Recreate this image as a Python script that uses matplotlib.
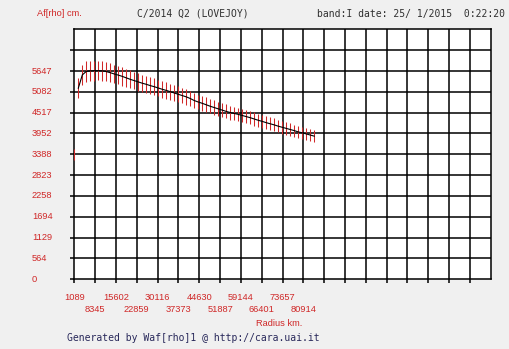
import numpy as np
import matplotlib
matplotlib.use('Agg')
import matplotlib.pyplot as plt

# radius (km) of each measured ring and Af[rho] (cm) with its error
radius_km = [1089, 2483, 3877, 5271, 6665, 8059, 9453, 10847, 12241, 13635,
             15029, 16423, 17817, 19211, 20605, 21999, 23393, 24787, 26181,
             27575, 28969, 30363, 31757, 33151, 34545, 35939, 37333, 38727,
             40121, 41515, 42909, 44303, 45697, 47091, 48485, 49879, 51273,
             52667, 54061, 55455, 56849, 58243, 59637, 61031, 62425, 63819,
             65213, 66607, 68001, 69395, 70789, 72183, 73577, 74971, 76365,
             77759, 79153, 80547, 81941, 83335, 84729]
af_rho = [3378, 5180, 5540, 5635, 5650, 5655, 5655, 5650, 5630, 5600,
          5565, 5535, 5500, 5460, 5420, 5385, 5350, 5315, 5285, 5250,
          5220, 5185, 5150, 5120, 5085, 5050, 5015, 4980, 4945, 4900,
          4845, 4805, 4770, 4730, 4690, 4655, 4620, 4585, 4550, 4520,
          4495, 4470, 4440, 4410, 4380, 4345, 4310, 4280, 4245, 4215,
          4185, 4150, 4120, 4090, 4060, 4030, 3995, 3970, 3940, 3910,
          3880]
af_err = [150, 270, 275, 275, 270, 270, 265, 265, 260, 255,
          255, 250, 250, 245, 245, 240, 240, 235, 235, 230,
          230, 225, 225, 220, 220, 215, 215, 210, 210, 205,
          205, 200, 200, 200, 195, 195, 195, 190, 190, 190,
          185, 185, 185, 180, 180, 180, 180, 175, 175, 175,
          175, 170, 170, 170, 170, 165, 165, 165, 165, 160,
          160]

x_ticks = [1089, 8345, 15602, 22859, 30116, 37373, 44630, 51887,
           59144, 66401, 73657, 80914]
y_ticks = [0, 564, 1129, 1694, 2258, 2823, 3388, 3952, 4517, 5082, 5647]

title = 'C/2014 Q2 (LOVEJOY)'
info = 'band:I date: 25/ 1/2015  0:22:20'
credit = 'Generated by Waf[rho]1 @ http://cara.uai.it'

W, H = 509, 349
RED = '#d02828'
BG = '#f0f0f0'
FONT = 'Liberation Sans'
MONO = 'DejaVu Sans Mono'

fig = plt.figure(figsize=(W / 100, H / 100), dpi=100, facecolor=BG)
ax = fig.add_axes([74.3 / W, 1 - 279.3 / H, (490.7 - 74.3) / W, 250 / H])
ax.set_facecolor('white')

x_step = 7256.5
y_step = 564.7
x0 = x_ticks[0]
ax.set_xlim(x0, x0 + 20 * x_step)
ax.set_ylim(0, 12 * y_step)

# grid
for i in range(1, 20):
    ax.axvline(x0 + i * x_step, color='black', lw=1.1, zorder=1)
for j in range(1, 12):
    ax.axhline(j * y_step, color='black', lw=1.1, zorder=1)
for s in ax.spines.values():
    s.set_linewidth(1.1)

ax.set_xticks([x0 + i * x_step for i in range(20)])
ax.set_yticks([j * y_step for j in range(12)])
ax.tick_params(length=3, width=1.1, labelbottom=False, labelleft=False)

# data
r = np.array(radius_km)
a = np.array(af_rho)
e = np.array(af_err)
ax.vlines(r, a - e, a + e, color=RED, lw=0.75, zorder=3)
ax.plot(r[1:], a[1:], color='black', lw=0.8, zorder=4)

# y labels
for j, v in enumerate(y_ticks):
    fig.text(32 / W, 1 - (279.3 - j * 20.83) / H, str(v), color=RED,
             fontsize=6.7, family=FONT, ha='left', va='center')

# x labels on two rows
for i, v in enumerate(x_ticks):
    px = 74.3 + i * 20.82
    py = 297.5 if i % 2 == 0 else 309
    fig.text(px / W, 1 - py / H, str(v), color=RED, fontsize=6.7,
             family=FONT, ha='center', va='center')

fig.text(279 / W, 1 - 323 / H, 'Radius km.', color=RED, fontsize=6.7,
         family=FONT, ha='center', va='center')
fig.text(36.7 / W, 1 - 14 / H, 'Af[rho] cm.', color=RED, fontsize=6.7,
         family=FONT, ha='left', va='center')
fig.text(136.7 / W, 1 - 14 / H, title, color='#303030', fontsize=7,
         family=MONO, ha='left', va='center')
fig.text(316.7 / W, 1 - 14 / H, info, color='#303030', fontsize=7,
         family=MONO, ha='left', va='center')
fig.text(66.7 / W, 1 - 338.3 / H, credit, color='#28285a', fontsize=7,
         family=MONO, ha='left', va='center')

fig.savefig('out.png', dpi=100, facecolor=BG)
